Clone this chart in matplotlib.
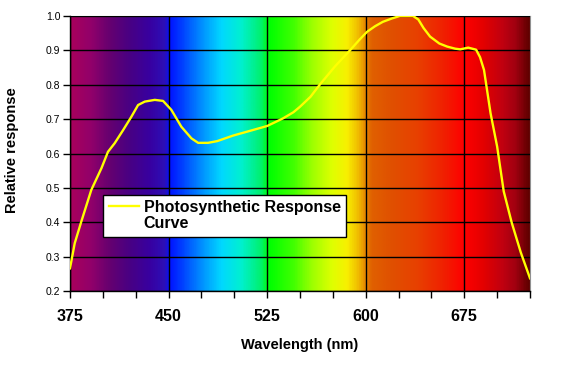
import numpy as np
import matplotlib
matplotlib.use("Agg")
import matplotlib.pyplot as plt
from matplotlib.colors import LinearSegmentedColormap
from matplotlib.legend_handler import HandlerLine2D

plt.rcParams['font.family'] = ['Liberation Sans', 'DejaVu Sans']

wavelength = [375, 378.6, 383.6, 391.2, 398.9, 403.9, 409, 415.4, 421.7, 426.8, 431.9,
              439.5, 445.8, 452.1, 459.7, 467.4, 472.5, 480, 487, 499, 512, 525, 537,
              545, 550, 558, 565, 577, 588, 595, 601, 607, 613, 620, 626, 636, 640,
              644, 649, 656, 662, 668, 672, 678, 684, 687, 690, 695, 700, 705, 711,
              718, 725]
response = [0.266, 0.339, 0.402, 0.494, 0.557, 0.605, 0.630, 0.668, 0.707, 0.741, 0.751,
            0.756, 0.753, 0.727, 0.678, 0.644, 0.631, 0.631, 0.636, 0.652, 0.666, 0.68,
            0.702, 0.72, 0.736, 0.765, 0.80, 0.855, 0.90, 0.93, 0.954, 0.97, 0.983,
            0.993, 1.0, 1.0, 0.99, 0.965, 0.94, 0.92, 0.911, 0.905, 0.903, 0.908,
            0.902, 0.88, 0.843, 0.717, 0.62, 0.49, 0.40, 0.312, 0.237]

x_major = [375, 450, 525, 600, 675]
x_minor = [400, 425, 475, 500, 550, 575, 625, 650, 700, 725]
y_ticks = [0.2, 0.3, 0.4, 0.5, 0.6, 0.7, 0.8, 0.9, 1.0]
y_labels = ['0.2', '0.3', '0.4', '0.5', '0.6', '0.7', '0.8', '0.9', '1.0']

# spectrum background stops (wavelength, colour)
spec_wl = [375, 390, 405, 420, 435, 447, 450, 460, 475, 490, 505, 520, 527, 545, 560,
           575, 586, 595, 599, 605, 620, 640, 660, 675, 690, 705, 715, 725]
spec_col = ['#a8005c', '#92006a', '#640070', '#480084', '#3800a0', '#2c10b8', '#0010ff',
            '#0040ff', '#0090ff', '#00d8ff', '#00f0d0', '#00f070', '#00ff00', '#40ff00',
            '#a0ff00', '#e0ff00', '#f8f000', '#f0b800', '#e89000', '#e06000', '#e05000',
            '#e84000', '#f02000', '#ff0000', '#e40000', '#c00010', '#a00010', '#600000']


class HandlerTopLine(HandlerLine2D):
    def create_artists(self, legend, orig_handle, xdescent, ydescent, width, height,
                       fontsize, trans):
        shift = 0.62 * fontsize
        return super().create_artists(legend, orig_handle, xdescent, ydescent - 2 * shift,
                                      width, height, fontsize, trans)


fig = plt.figure(figsize=(5.62, 3.75), dpi=100)
ax = fig.add_axes([70/562, 1-291/375, 460/562, 275/375])

lo, hi = 375, 725
pos = [(w - lo) / (hi - lo) for w in spec_wl]
cmap = LinearSegmentedColormap.from_list('spec', list(zip(pos, spec_col)))
grad = np.linspace(0, 1, 700).reshape(1, -1)
ax.imshow(grad, cmap=cmap, aspect='auto', extent=[lo, hi, 0.2, 1.0], zorder=0,
          interpolation='bilinear')

ax.set_xlim(lo, hi)
ax.set_ylim(0.2, 1.0)
ax.set_xticks(x_major)
ax.set_xticks(x_minor, minor=True)
ax.set_yticks(y_ticks)
ax.set_yticklabels(y_labels)
ax.grid(True, which='major', color='black', linewidth=1.0, zorder=1)
ax.set_axisbelow(False)

line, = ax.plot(wavelength, response, color='#ffff00', linewidth=1.7, zorder=3,
                label='Photosynthetic Response\nCurve', solid_joinstyle='round')

for s in ['top', 'right']:
    ax.spines[s].set_color('#909090')
    ax.spines[s].set_linewidth(0.8)
for s in ['left', 'bottom']:
    ax.spines[s].set_color('black')
    ax.spines[s].set_linewidth(1.0)

ax.tick_params(axis='x', which='major', length=5, width=1, pad=8,
               labelsize=11.5)
ax.tick_params(axis='x', which='minor', length=5, width=1)
ax.tick_params(axis='y', length=5, width=1, labelsize=7.5, pad=2)
for t in ax.get_xticklabels():
    t.set_fontweight('bold')

ax.set_xlabel('Wavelength (nm)', fontsize=10.5, fontweight='bold')
ax.set_ylabel('Relative response', fontsize=10.5, fontweight='bold')
ax.xaxis.set_label_coords(0.5, -(345 - 291) / 275)
ax.xaxis.label.set_va('center')
ax.yaxis.set_label_coords((12 - 70) / 460, (291 - 150) / 275)
ax.yaxis.label.set_va('center')

leg = ax.legend(handles=[line], loc='lower left',
                bbox_to_anchor=((103-70)/460, (291-237)/275),
                frameon=True, fancybox=False, borderaxespad=0,
                prop={'size': 11.5, 'weight': 'bold'}, handlelength=1.9,
                handletextpad=0.3, borderpad=0.35,
                handler_map={line: HandlerTopLine()})
for t in leg.get_texts():
    t.set_linespacing(1.1)
leg.get_frame().set_facecolor('white')
leg.get_frame().set_edgecolor('black')
leg.get_frame().set_linewidth(1.0)
leg.get_frame().set_alpha(1.0)

fig.savefig('out.png', dpi=100)
